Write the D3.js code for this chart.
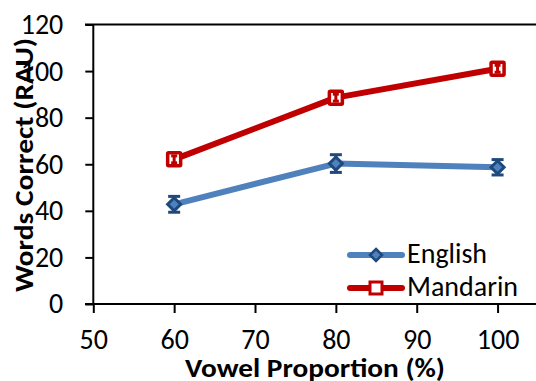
<!DOCTYPE html>
<html>
<head>
<meta charset="utf-8">
<script src="https://cdn.jsdelivr.net/npm/d3@7"></script>
<style>
  html, body { margin: 0; padding: 0; background: #fff; }
  svg { display: block; font-family: Carlito, Lato, "Open Sans", sans-serif; }
</style>
</head>
<body>
<svg id="chart" width="536" height="381"></svg>
<script>
// Vowel proportion (%) on the x axis
const proportions = [60, 80, 100];
// Mean words correct (RAU) and error-bar half widths per language
const englishMeans = [42.8, 60.3, 58.7];
const englishErr = [3.4, 3.8, 3.3];
const mandarinMeans = [62.1, 88.6, 101.0];
const mandarinErr = [1.5, 1.5, 1.5];
const seriesNames = ["English", "Mandarin"];
const xTicks = [50, 60, 70, 80, 90, 100];
const yTicks = [0, 20, 40, 60, 80, 100, 120];

const FONT = "Carlito, Lato, 'Open Sans', sans-serif";
const svg = d3.select("#chart");

const x = d3.scaleLinear().domain([50, 105]).range([93.3, 538]);
const y = d3.scaleLinear().domain([0, 120]).range([304, 24.5]);

const colors = {
  English: { line: "#4F81BD", mark: "#1F497D" },
  Mandarin: { line: "#C00000", mark: "#C00000" }
};

// Top boundary line at the axis maximum
svg.append("line")
  .attr("x1", 85).attr("x2", 536)
  .attr("y1", y(120)).attr("y2", y(120))
  .attr("stroke", "#000").attr("stroke-width", 2);

// Axes
const yAxis = svg.append("g")
  .attr("transform", `translate(${x(50)},0)`)
  .call(d3.axisLeft(y).tickValues(yTicks).tickSize(8).tickPadding(22));
const xAxis = svg.append("g")
  .attr("transform", `translate(0,${y(0)})`)
  .call(d3.axisBottom(x).tickValues(xTicks).tickSize(9).tickPadding(16));

[yAxis, xAxis].forEach(g => {
  g.select(".domain").remove();
  g.selectAll(".tick line").attr("stroke", "#000").attr("stroke-width", 2);
  g.selectAll(".tick text").attr("fill", "#000")
    .style("font-size", "28px").style("font-family", FONT);
});
// Axis lines
svg.append("line").attr("x1", x(50)).attr("x2", x(50)).attr("y1", y(0) + 1).attr("y2", y(120))
  .attr("stroke", "#000").attr("stroke-width", 2);
svg.append("line").attr("x1", 85).attr("x2", 536).attr("y1", y(0)).attr("y2", y(0))
  .attr("stroke", "#000").attr("stroke-width", 2);

// Axis titles
svg.append("text")
  .attr("x", 315).attr("y", 377)
  .attr("text-anchor", "middle")
  .attr("textLength", 260).attr("lengthAdjust", "spacingAndGlyphs")
  .style("font-size", "26px").style("font-weight", "bold")
  .text("Vowel Proportion (%)");

svg.append("text")
  .attr("transform", "translate(33,165) rotate(-90)")
  .attr("text-anchor", "middle")
  .attr("textLength", 254).attr("lengthAdjust", "spacingAndGlyphs")
  .style("font-size", "27px").style("font-weight", "bold")
  .text("Words Correct (RAU)");

const line = d3.line().x(d => x(d.x)).y(d => y(d.y));

function series(name, means, errs) {
  return means.map((m, i) => ({ x: proportions[i], y: m, e: errs[i], name }));
}
const english = series("English", englishMeans, englishErr);
const mandarin = series("Mandarin", mandarinMeans, mandarinErr);

function drawLine(data, c) {
  svg.append("path").datum(data)
    .attr("d", line).attr("fill", "none")
    .attr("stroke", c.line).attr("stroke-width", 6)
    .attr("stroke-linejoin", "round").attr("stroke-linecap", "round");
}

function drawErrors(data, c, cap) {
  const g = svg.append("g").attr("stroke", c.mark).attr("stroke-width", 3);
  data.forEach(d => {
    g.append("line").attr("x1", x(d.x)).attr("x2", x(d.x))
      .attr("y1", y(d.y - d.e)).attr("y2", y(d.y + d.e));
    [d.y - d.e, d.y + d.e].forEach(v => {
      g.append("line").attr("x1", x(d.x) - cap / 2).attr("x2", x(d.x) + cap / 2)
        .attr("y1", y(v)).attr("y2", y(v));
    });
  });
}

function diamond(g, cx, cy, r) {
  g.append("path")
    .attr("d", `M${cx},${cy - r}L${cx + r},${cy}L${cx},${cy + r}L${cx - r},${cy}Z`);
}

// English series
drawLine(english, colors.English);
drawErrors(english, colors.English, 12);
const eg = svg.append("g").attr("fill", "#4F81BD").attr("stroke", colors.English.mark).attr("stroke-width", 3);
english.forEach(d => diamond(eg, x(d.x), y(d.y), 6.5));

// Mandarin series
drawLine(mandarin, colors.Mandarin);
const mg = svg.append("g").attr("fill", "#fff").attr("stroke", colors.Mandarin.mark).attr("stroke-width", 3.5);
mandarin.forEach(d => mg.append("rect")
  .attr("x", x(d.x) - 6.5).attr("y", y(d.y) - 6.5).attr("width", 13).attr("height", 13).attr("rx", 1));
drawErrors(mandarin, colors.Mandarin, 6);

// Legend
const legend = svg.append("g");
const legendRows = [
  { name: seriesNames[0], c: colors.English, y: 255 },
  { name: seriesNames[1], c: colors.Mandarin, y: 288 }
];
legendRows.forEach(r => {
  legend.append("line").attr("x1", 350).attr("x2", 402).attr("y1", r.y).attr("y2", r.y)
    .attr("stroke", r.c.line).attr("stroke-width", 6).attr("stroke-linecap", "round");
  if (r.name === "English") {
    const g = legend.append("g").attr("fill", "#4F81BD").attr("stroke", r.c.mark).attr("stroke-width", 2.5);
    diamond(g, 376, r.y, 6);
  } else {
    legend.append("rect").attr("x", 370).attr("y", r.y - 6).attr("width", 12).attr("height", 12)
      .attr("fill", "#fff").attr("stroke", r.c.mark).attr("stroke-width", 3);
  }
  legend.append("text").attr("x", 407).attr("y", r.y + 8)
    .style("font-size", "28px").text(r.name);
});
</script>
</body>
</html>
